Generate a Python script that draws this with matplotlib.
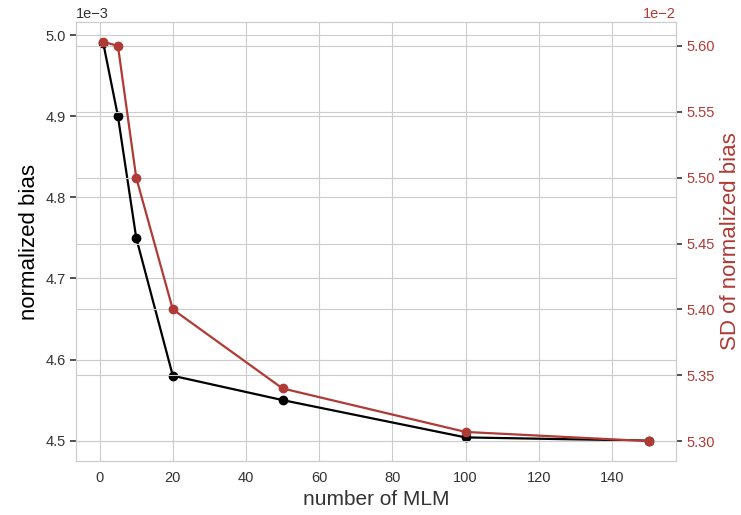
import matplotlib
matplotlib.use("Agg")
import matplotlib.pyplot as plt
import seaborn as sns

# data
n_mlm = [1, 5, 10, 20, 50, 100, 150]
bias = [4.99e-3, 4.90e-3, 4.75e-3, 4.58e-3, 4.55e-3, 4.504e-3, 4.50e-3]
sd_bias = [5.603e-2, 5.600e-2, 5.50e-2, 5.40e-2, 5.34e-2, 5.307e-2, 5.30e-2]

sns.set_style("whitegrid")
plt.rcParams['font.family'] = ['Liberation Sans', 'DejaVu Sans']

red = "#b03a35"

fig, ax = plt.subplots(figsize=(7.41, 5.15), dpi=100)
fig.subplots_adjust(left=0.1026, right=0.912, top=0.957, bottom=0.105)

ax.plot(n_mlm, bias, color="black", marker="o", lw=1.6, ms=6)
ax.set_xlabel("number of MLM", fontsize=15, color="#333333")
ax.set_ylabel("normalized bias", fontsize=16, color="black")
ax.ticklabel_format(axis="y", style="sci", scilimits=(0, 0))
ax.set_ylim(4.475e-3, 5.016e-3)
ax.tick_params(axis="y", left=True, length=4, width=1.2, color="#333333",
               labelsize=10.5, labelcolor="#333333")
ax.tick_params(axis="x", labelsize=10.5, labelcolor="#333333")
ax.yaxis.get_offset_text().set_fontsize(10.5)

ax2 = ax.twinx()
ax2.plot(n_mlm, sd_bias, color=red, marker="o", lw=1.6, ms=6)
ax2.set_ylabel("SD of normalized bias", fontsize=16, color=red)
ax2.ticklabel_format(axis="y", style="sci", scilimits=(0, 0))
ax2.set_ylim(5.285e-2, 5.618e-2)
ax2.tick_params(axis="y", right=True, length=4, width=1.2, color="#333333",
                labelsize=10.5, labelcolor=red)
ax2.yaxis.get_offset_text().set_fontsize(10.5)
ax2.yaxis.get_offset_text().set_color(red)

for a in (ax, ax2):
    for s in a.spines.values():
        s.set_color("#cccccc")

fig.savefig("out.png", dpi=100)
